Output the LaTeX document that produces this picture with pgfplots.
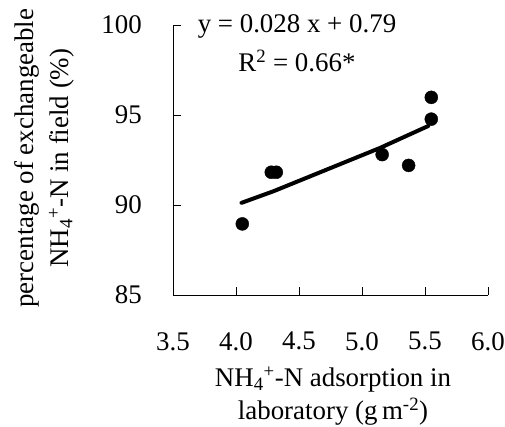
\documentclass[border=0pt]{standalone}
\usepackage{fontspec}
\setmainfont{Liberation Serif}
\usepackage{pgfplots}
\pgfplotsset{compat=1.18}
\begin{document}
\begin{tikzpicture}
\path[use as bounding box, fill=white] (-173bp,-132bp) rectangle (332bp,295bp);
\begin{axis}[
  at={(0,0)}, anchor=south west,
  scale only axis, width=315bp, height=270bp,
  xmin=3.5, xmax=6.0, ymin=85, ymax=100,
  axis x line*=bottom, axis y line*=left,
  axis line style={-, line width=0.9bp, black},
  xtick={3.5,4.0,4.5,5.0,5.5,6.0}, ytick={85,90,95,100},
  tick align=inside, major tick length=8bp,
  tick style={line width=0.9bp, black},
  /pgf/number format/assume math mode=true,
  x tick label style={/pgf/number format/fixed, /pgf/number format/fixed zerofill, /pgf/number format/precision=1,
     anchor=north, inner sep=0pt, yshift=-37bp, font=\fontsize{27}{30}\selectfont},
  y tick label style={anchor=east, inner sep=0pt, xshift=-31bp, font=\fontsize{27}{30}\selectfont},
  xlabel={NH\textsubscript{4}\textsuperscript{+}-N adsorption in\\laboratory (g\,m\textsuperscript{-2})},
  xlabel style={at={(axis description cs:0.508,-0.375)}, anchor=center, align=center, inner sep=0pt, font=\fontsize{27}{33}\selectfont},
  ylabel={percentage of exchangeable\\NH\textsubscript{4}\textsuperscript{+}-N in field (\%)},
  ylabel style={at={(axis description cs:-0.408,0.507)}, anchor=center, align=center, inner sep=0pt, rotate=0, font=\fontsize{27}{35}\selectfont},
  clip=false,
]
\addplot[only marks, mark=*, mark size=6.5bp, black] coordinates {
  (4.05,88.95) (4.28,91.82) (4.32,91.82) (5.16,92.8) (5.37,92.2) (5.55,94.77) (5.55,95.98)
};
\addplot[black, line width=4bp, line cap=round, line join=round] coordinates {
  (4.044,90.12) (4.296,90.76) (5.143,93.17) (5.526,94.39)
};
\node[anchor=base, inner sep=0pt, font=\fontsize{27}{30}\selectfont] at (axis cs:4.484,99.56) {y = 0.028 x + 0.79};
\node[anchor=base, inner sep=0pt, font=\fontsize{27}{30}\selectfont] at (axis cs:4.484,97.39) {R\textsuperscript{2} = 0.66*};
\end{axis}
\end{tikzpicture}
\end{document}
